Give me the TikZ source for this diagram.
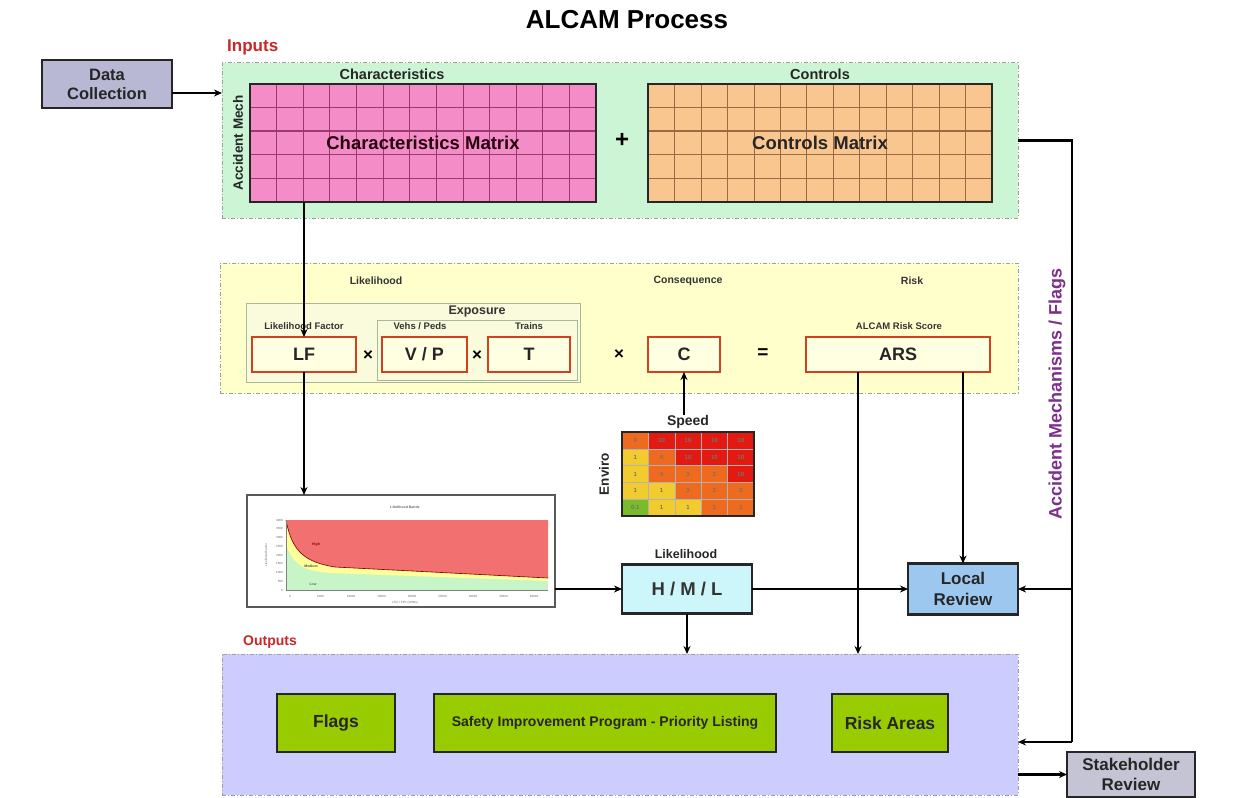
\documentclass[tikz,border=0pt]{standalone}
\usepackage{fontspec}
\setmainfont{Liberation Sans}
\usetikzlibrary{calc,arrows.meta}
\definecolor{inputsgreen}{HTML}{CCF5D6}
\definecolor{charpink}{HTML}{F48CC8}
\definecolor{chargrid}{HTML}{9A3A6E}
\definecolor{ctrlpeach}{HTML}{FAC690}
\definecolor{ctrlgrid}{HTML}{9A6A40}
\definecolor{yellowbg}{HTML}{FFFFCC}
\definecolor{boxfill}{HTML}{FFFFE2}
\definecolor{boxred}{HTML}{D2401E}
\definecolor{expfill}{HTML}{FAFADC}
\definecolor{expline}{HTML}{A8B898}
\definecolor{hmlfill}{HTML}{CCF6FA}
\definecolor{lrfill}{HTML}{9CC8F0}
\definecolor{outfill}{HTML}{CCCCFF}
\definecolor{greenbox}{HTML}{99CC00}
\definecolor{dcfill}{HTML}{B8B8D4}
\definecolor{shfill}{HTML}{C4C4D4}
\definecolor{redlabel}{HTML}{C8282A}
\definecolor{purplelabel}{HTML}{7E2E8C}
\definecolor{rmR}{HTML}{E21A12}
\definecolor{rmO}{HTML}{EE6A1E}
\definecolor{rmY}{HTML}{F2CC2E}
\definecolor{rmG}{HTML}{78BC2C}
\definecolor{chred}{HTML}{F27070}
\definecolor{chyel}{HTML}{FFFF99}
\definecolor{chgreen}{HTML}{C8F5C8}
\newcommand\fsz[2]{\fontsize{#1}{#2}\selectfont}
\tikzset{
  arr/.style={line width=2.2pt,-{Stealth[length=8pt,width=7pt]}},
  ln/.style={line width=2.2pt},
  dashbox/.style={draw=gray!75,line width=1pt,dash pattern=on 4pt off 2pt on 1pt off 2pt,inner sep=0pt,outer sep=0pt},
  box/.style={draw=black!85,line width=2.4pt,inner sep=0pt,outer sep=0pt,align=center,font=\bfseries},
  redbox/.style={draw=boxred,line width=2.2pt,fill=boxfill,minimum height=35pt,inner sep=0pt,outer sep=0pt,font=\bfseries\fsz{18}{20},text=black!85},
  lbl/.style={inner sep=0pt,font=\bfseries},
  small/.style={inner sep=0pt,font=\bfseries\fsz{9.5}{10},text=black!80},
  tiny/.style={inner sep=0pt,font=\fsz{3}{3.5},text=black!60},
  cellnum/.style={inner sep=0pt,font=\bfseries\fsz{6}{6},text=black!55},
  gridm/.style 2 args={path picture={
    \foreach \i in {1,...,12}{\draw[#1,line width=0.7pt] ($(path picture bounding box.north west)!\i/13!(path picture bounding box.north east)$) -- ($(path picture bounding box.south west)!\i/13!(path picture bounding box.south east)$);}
    \foreach \j in {1,...,4}{\draw[#1,line width=#2] ($(path picture bounding box.north west)!\j/5!(path picture bounding box.south west)$) -- ($(path picture bounding box.north east)!\j/5!(path picture bounding box.south east)$);}
  }},
}
\begin{document}
\begin{tikzpicture}[x=1pt,y=-1pt]
\useasboundingbox (0,0) rectangle (1238,797);
\fill[white] (0,0) rectangle (1238,797);

% title
\node[lbl,font=\bfseries\fsz{26}{28}] (title) at (627,20) {ALCAM Process};

% ---------- Inputs ----------
\node[lbl,anchor=west,text=redlabel,font=\bfseries\fsz{17}{18}] (inlbl) at (227,47) {Inputs};
\node[dashbox,fill=inputsgreen,minimum width=796pt,minimum height=155pt] (inputs) at (620,140.5) {};
\node[box,fill=dcfill,minimum width=130pt,minimum height=48pt,font=\bfseries\fsz{16.5}{19},text=black!85] (dc) at (107,84) {Data\\Collection};
\draw[arr] ([yshift=-9pt]dc.east) -- ([yshift=-9pt]dc.east -| inputs.west);

\node[lbl,font=\bfseries\fsz{14.5}{15},text=black!85] (charlbl) at (392,74) {Characteristics};
\node[lbl,font=\bfseries\fsz{14.5}{15},text=black!85] (ctrllbl) at (820,74) {Controls};
\node[lbl,rotate=90,font=\bfseries\fsz{13.5}{14},text=black!85] (amlbl) at (238,143) {Accident Mech};
\node[draw=black!85,line width=2.8pt,fill=charpink,minimum width=346pt,minimum height=118pt,inner sep=0pt,outer sep=0pt,gridm={chargrid}{1.4pt},font=\bfseries\fsz{18.5}{20},text=black!80!purple] (cm) at (423,143) {Characteristics Matrix};
\node[lbl,font=\bfseries\fsz{24}{24}] (plus) at (622,140) {+};
\node[draw=black!85,line width=2.8pt,fill=ctrlpeach,minimum width=344pt,minimum height=118pt,inner sep=0pt,outer sep=0pt,gridm={ctrlgrid}{1.4pt},font=\bfseries\fsz{18.5}{20},text=black!85] (ctm) at (820,143) {Controls Matrix};

% ---------- Calculation ----------
\node[dashbox,fill=yellowbg,minimum width=798pt,minimum height=130pt] (calc) at (619,328) {};
\node[small,font=\bfseries\fsz{10.5}{11}] (likl) at (376,281) {Likelihood};
\node[small,font=\bfseries\fsz{10.5}{11}] (consl) at (688,281) {Consequence};
\node[small,font=\bfseries\fsz{10.5}{11}] (riskl) at (912,281) {Risk};
\node[draw=expline,line width=1pt,fill=expfill,minimum width=334pt,minimum height=79pt,inner sep=0pt] (grp) at (413,342.5) {};
\node[draw=expline,line width=1pt,minimum width=200pt,minimum height=60pt,inner sep=0pt] (expg) at (477,350) {};
\node[small,font=\bfseries\fsz{12.5}{13}] (expl) at (477,311) {Exposure};
\node[small] (lfl) at (304,326) {Likelihood Factor};
\node[small] (vpl) at (420,326) {Vehs / Peds};
\node[small] (tl) at (529,326) {Trains};
\node[small] (arsl) at (899,326) {ALCAM Risk Score};
\node[redbox,minimum width=104pt] (lf) at (304,354.5) {LF};
\node[lbl,font=\bfseries\fsz{17}{17}] (x1) at (368,356) {×};
\node[redbox,minimum width=85pt] (vp) at (424.5,354.5) {V / P};
\node[lbl,font=\bfseries\fsz{17}{17}] (x2) at (477,356) {×};
\node[redbox,minimum width=82pt] (t) at (529,354.5) {T};
\node[lbl,font=\bfseries\fsz{17}{17}] (x3) at (619,355) {×};
\node[redbox,minimum width=72pt] (c) at (684,354.5) {C};
\node[lbl,font=\bfseries\fsz{19}{19}] (eq) at (763,354) {=};
\node[redbox,minimum width=184pt] (ars) at (898,354.5) {ARS};

\draw[arr] (cm.south -| lf.north) -- (lf.north);

% ---------- Consequence matrix ----------
\node[lbl,font=\bfseries\fsz{14}{15},text=black!85] (speed) at (688,422) {Speed};
\node[lbl,rotate=90,font=\bfseries\fsz{13.5}{14},text=black!85] (enviro) at (604,474) {Enviro};
\coordinate (rmNW) at (622,432);
\foreach \cc/\n [count=\i from 0] in {rmO/4,rmR/10,rmR/10,rmR/10,rmR/10}
  {\fill[\cc] ($(rmNW)+(\i*26.4,0)$) rectangle ++(26.4,16.8);
   \node[cellnum] at ($(rmNW)+(\i*26.4+13.2,8.4)$) {\n};}
\foreach \cc/\n [count=\i from 0] in {rmY/1,rmO/4,rmR/10,rmR/10,rmR/10}
  {\fill[\cc] ($(rmNW)+(\i*26.4,16.8)$) rectangle ++(26.4,16.8);
   \node[cellnum] at ($(rmNW)+(\i*26.4+13.2,25.2)$) {\n};}
\foreach \cc/\n [count=\i from 0] in {rmY/1,rmO/4,rmO/3,rmO/3,rmR/10}
  {\fill[\cc] ($(rmNW)+(\i*26.4,33.6)$) rectangle ++(26.4,16.8);
   \node[cellnum] at ($(rmNW)+(\i*26.4+13.2,42)$) {\n};}
\foreach \cc/\n [count=\i from 0] in {rmY/1,rmY/1,rmO/3,rmO/3,rmO/3}
  {\fill[\cc] ($(rmNW)+(\i*26.4,50.4)$) rectangle ++(26.4,16.8);
   \node[cellnum] at ($(rmNW)+(\i*26.4+13.2,58.8)$) {\n};}
\foreach \cc/\n [count=\i from 0] in {rmG/0.1,rmY/1,rmY/1,rmO/3,rmO/3}
  {\fill[\cc] ($(rmNW)+(\i*26.4,67.2)$) rectangle ++(26.4,16.8);
   \node[cellnum] at ($(rmNW)+(\i*26.4+13.2,75.6)$) {\n};}
\foreach \i in {1,...,4}{\draw[black!30,line width=0.4pt] ($(rmNW)+(\i*26.4,0)$) -- ++(0,84);
  \draw[black!30,line width=0.4pt] ($(rmNW)+(0,\i*16.8)$) -- ++(132,0);}
\node[draw=black!85,line width=2.4pt,minimum width=132pt,minimum height=84pt,inner sep=0pt] (rm) at (688,474) {};
\draw[arr] (c.south |- speed.north) -- (c.south);

% ---------- Likelihood chart ----------
\node[draw=black!65,line width=1.8pt,fill=white,minimum width=308pt,minimum height=112pt,inner sep=0pt,outer sep=0pt] (chart) at (401,551) {};
\draw[arr] (lf.south) -- (lf.south |- chart.north);
\fill[chgreen] (286,520) rectangle (548,590);
\fill[chyel] (286,520) -- (286,545) .. controls (294,566) and (305,571) .. (330,573) -- (548,581) -- (548,520) -- cycle;
\fill[chred] (286,520) .. controls (292,552) and (305,562) .. (335,567) -- (548,578) -- (548,520) -- cycle;
\draw[red!45!black,line width=0.6pt] (286,520) .. controls (292,552) and (305,562) .. (335,567) -- (548,578);
\draw[black!50,line width=0.4pt] (286,520) -- (286,590) -- (548,590);
\node[tiny,font=\bfseries\fsz{3.5}{4}] (cht) at (405,507) {Likelihood Bands};
\node[tiny,text=red!50!black,font=\bfseries\fsz{3.5}{4}] (chh) at (316,545) {High};
\node[tiny,text=black!70,font=\bfseries\fsz{3.5}{4}] (chm) at (311,566) {Medium};
\node[tiny,text=black!60,font=\bfseries\fsz{3.5}{4}] (chl) at (313,584) {Low};
\foreach \v [count=\k from 0] in {0,5000,10000,15000,20000,25000,30000,35000,40000}
  {\node[tiny] at (290+\k*30.5,596) {\v};}
\foreach \v [count=\k from 0] in {0,500,1000,1500,2000,2500,3000,3500,4000}
  {\node[tiny,anchor=east] at (283,590-\k*8.75) {\v};}
\node[tiny] (chx) at (405,603) {LTCI / PFC (1000s)};
\node[tiny,rotate=90] (chy) at (266,555) {Likelihood Factor};

% ---------- H/M/L and Local Review ----------
\node[lbl,font=\bfseries\fsz{12.5}{13},text=black!85] (likl2) at (686,554) {Likelihood};
\node[box,fill=hmlfill,minimum width=130pt,minimum height=49pt,font=\bfseries\fsz{18.5}{20},text=black!80] (hml) at (687,589) {H / M / L};
\node[box,fill=lrfill,minimum width=110pt,minimum height=51pt,font=\bfseries\fsz{17}{21},text=black!85] (lr) at (963,589) {Local\\Review};
\draw[arr] (chart.east |- hml.west) -- (hml.west);
\draw[arr] (hml.east) -- (lr.west);
\draw[arr] (ars.south -| lr.north) -- (lr.north);

% ---------- Outputs ----------
\node[lbl,anchor=west,text=redlabel,font=\bfseries\fsz{14}{15}] (outlbl) at (243,642) {Outputs};
\node[dashbox,fill=outfill,minimum width=796pt,minimum height=141pt] (outputs) at (620,724.5) {};
\node[box,fill=greenbox,minimum width=118pt,minimum height=58pt,font=\bfseries\fsz{17.5}{19},text=black!85] (flags) at (336,723) {Flags};
\node[box,fill=greenbox,minimum width=342pt,minimum height=58pt,font=\bfseries\fsz{14}{16},text=black!85] (sip) at (605,723) {Safety Improvement Program - Priority Listing};
\node[box,fill=greenbox,minimum width=116pt,minimum height=58pt,font=\bfseries\fsz{17.5}{19},text=black!85] (ra) at (890,723) {Risk Areas};
\node[box,fill=shfill,minimum width=128pt,minimum height=45pt,font=\bfseries\fsz{17}{20},text=black!85] (sh) at (1131,774.5) {Stakeholder\\Review};

\draw[arr] (hml.south) -- (hml.south |- outputs.north);
\draw[arr] ([xshift=-40pt]ars.south) -- ([xshift=-40pt]ars.south |- outputs.north);
\draw[arr] (sh.west -| outputs.east) -- (sh.west);

% ---------- Feedback line ----------
\coordinate (rlb) at (1072,742);
\draw[ln] (inputs.east) -| (rlb);
\draw[arr] (rlb) -- (rlb -| outputs.east);
\draw[arr] (lr.east -| rlb) -- (lr.east);
\node[lbl,rotate=90,text=purplelabel,font=\bfseries\fsz{18}{19}] (amf) at (1057,394) {Accident Mechanisms / Flags};
\end{tikzpicture}
\end{document}
